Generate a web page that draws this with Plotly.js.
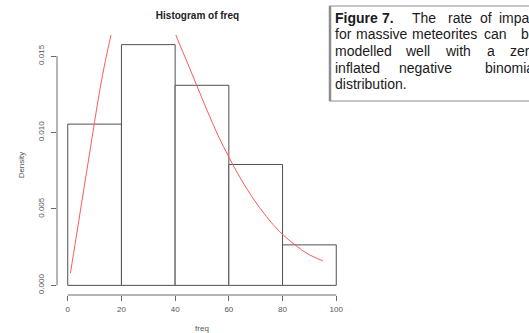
<!DOCTYPE html>
<html>
<head>
<meta charset="utf-8">
<script src="https://cdn.plot.ly/plotly-3.0.1.min.js"></script>
<style>
  html, body { margin: 0; padding: 0; background: #fff; overflow: hidden; }
  #chart { width: 529px; height: 333px; }
</style>
</head>
<body>
<div id="chart"></div>
<script>
// ---- data ----
const binLeft   = [0, 20, 40, 60, 80];
const binWidth  = [20, 20, 20, 20, 20];
const density   = [0.01055, 0.01575, 0.01309, 0.00791, 0.00265];

const curveX = [1, 3, 5, 7, 9, 11, 13, 15, 17, 18, 20, 22, 24, 26, 28, 30, 32, 34, 36, 38, 40, 44, 48, 52, 56, 60, 64, 69, 74, 79, 85, 89, 95];
const curveY = [0.0008, 0.0030, 0.0052, 0.0074, 0.0096, 0.0118, 0.0138, 0.0155, 0.0171, 0.0182, 0.0198, 0.0208, 0.0214, 0.0217, 0.0216, 0.0212, 0.0205, 0.0196, 0.0186, 0.0176, 0.0165, 0.0148, 0.0131, 0.0114, 0.0098, 0.0084, 0.0071, 0.0057, 0.0045, 0.0035, 0.0026, 0.0021, 0.0016];

const xTickVals = [0, 20, 40, 60, 80, 100];
const yTickVals = [0, 0.005, 0.010, 0.015];
const yTickText = ["0.000", "0.005", "0.010", "0.015"];

const chartTitle = "Histogram of freq";
const xTitle = "freq";
const yTitle = "Density";

const captionLines = [
  [["<b>Figure</b>", 335], ["<b>7.</b>", 382], ["The", 412], ["rate", 448], ["of", 480], ["impact", 499]],
  [["for", 335], ["massive", 356], ["meteorites", 412], ["can", 484], ["be", 521.5]],
  [["modelled", 335], ["well", 405], ["with", 445], ["a", 487], ["zero-", 510]],
  [["inflated", 335], ["negative", 399], ["binomial", 485.5]],
  [["distribution.", 335]]
];
const captionBaselines = [22.5, 39, 55.8, 72.2, 88.6];

// ---- layout geometry ----
const W = 529, H = 333;
const M = { l: 57, r: 182, t: 35, b: 38 };
const PW = W - M.l - M.r, PH = H - M.t - M.b;
const px = x => (x - M.l) / PW;
const py = y => 1 - (y - M.t) / PH;

const font = "Liberation Sans, Arial, Helvetica, sans-serif";
const axisGrey = "#6a6a6a";

const binCenter = binLeft.map((b, i) => b + binWidth[i] / 2);

const traces = [
  {
    type: "bar",
    x: binCenter,
    y: density,
    width: binWidth,
    marker: { color: "rgba(255,255,255,1)", line: { color: "#505050", width: 1 } },
    hoverinfo: "skip",
    showlegend: false
  },
  {
    type: "scatter",
    mode: "lines",
    x: curveX,
    y: curveY,
    line: { color: "rgb(255,90,90)", width: 1, shape: "spline" },
    hoverinfo: "skip",
    showlegend: false
  }
];

const annotations = [];
captionLines.forEach((line, li) => {
  line.forEach(([word, left]) => {
    annotations.push({
      text: word,
      xref: "paper", yref: "paper",
      x: px(left - 2.2), y: py(captionBaselines[li] - 4.7),
      xanchor: "left", yanchor: "middle",
      showarrow: false,
      font: { family: font, size: 14, color: "#1a1a1a" }
    });
  });
});

const shapes = [
  // R-style axis lines spanning first to last tick
  { type: "line", xref: "x", yref: "paper", x0: xTickVals[0], x1: xTickVals[xTickVals.length - 1], y0: 0, y1: 0,
    line: { color: axisGrey, width: 1 } },
  { type: "line", xref: "paper", yref: "y", x0: 0, x1: 0, y0: yTickVals[0], y1: yTickVals[yTickVals.length - 1],
    line: { color: axisGrey, width: 1 } },
  // caption box
  { type: "rect", xref: "paper", yref: "paper", x0: px(330), x1: px(600), y0: py(6), y1: py(101),
    line: { color: "#b4b4b4", width: 1.5 }, fillcolor: "rgba(0,0,0,0)" },
  { type: "line", xref: "paper", yref: "paper", x0: px(330), x1: px(330), y0: py(6), y1: py(101),
    line: { color: "#8c8c8c", width: 2.5 } }
];

const layout = {
  width: W, height: H,
  margin: M,
  paper_bgcolor: "#fff", plot_bgcolor: "#fff",
  font: { family: font, size: 8, color: "#555" },
  bargap: 0,
  title: {
    text: "<b>" + chartTitle + "</b>",
    xref: "container", yref: "container",
    x: 197.5 / W, y: 1 - 15 / H, xanchor: "center", yanchor: "middle",
    font: { family: font, size: 10, color: "#222" }
  },
  xaxis: {
    range: [-4, 104],
    tickmode: "array", tickvals: xTickVals,
    ticks: "outside", ticklen: 5, tickcolor: axisGrey, tickwidth: 1,
    showline: false, showgrid: false, zeroline: false,
    tickfont: { family: font, size: 8, color: "#555" },
    ticklabelstandoff: 1,
    title: { text: xTitle, font: { family: font, size: 8, color: "#555" }, standoff: 13 },
    automargin: false, fixedrange: true
  },
  yaxis: {
    range: [-0.00063, 0.01638],
    tickmode: "array", tickvals: yTickVals, ticktext: yTickText,
    tickangle: -90,
    ticks: "outside", ticklen: 5, tickcolor: axisGrey, tickwidth: 1,
    showline: false, showgrid: false, zeroline: false,
    tickfont: { family: font, size: 8, color: "#555" },
    ticklabelstandoff: 4,
    title: { text: yTitle, font: { family: font, size: 8, color: "#555" }, standoff: 10 },
    automargin: false, fixedrange: true
  },
  shapes: shapes,
  annotations: annotations,
  showlegend: false
};

Plotly.newPlot("chart", traces, layout, { displayModeBar: false, staticPlot: true });
</script>
</body>
</html>
